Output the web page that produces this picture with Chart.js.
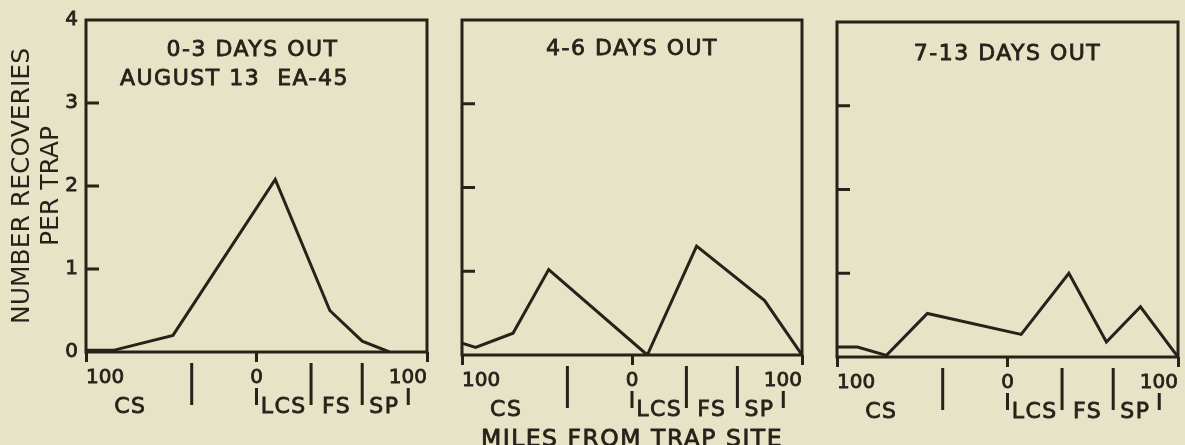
<!DOCTYPE html>
<html>
<head>
<meta charset="utf-8">
<script src="https://cdn.jsdelivr.net/npm/chart.js@4.4.1/dist/chart.umd.min.js"></script>
<style>
  html, body { margin: 0; padding: 0; background: #e7e3c7; }
  #wrap { position: relative; width: 1185px; height: 445px; overflow: hidden; }
  canvas { position: absolute; left: 0; top: 0; }
</style>
</head>
<body>
<div id="wrap">
  <canvas id="p1" width="1185" height="445"></canvas>
  <canvas id="p2" width="1185" height="445"></canvas>
  <canvas id="p3" width="1185" height="445"></canvas>
</div>
<script>
// miles from trap site (negative = CS side) and recoveries per trap, one pair per panel
const miles1 = [-100, -84, -49, 11, 43, 62, 78];
const recov1 = [0.02, 0.02, 0.2, 2.08, 0.5, 0.13, 0];
const miles2 = [-100, -92, -70, -49, 9, 38, 78, 100];
const recov2 = [0.14, 0.09, 0.26, 1.02, 0, 1.3, 0.65, 0];
const miles3 = [-100, -88, -71, -47, 8, 36, 58, 78, 100];
const recov3 = [0.12, 0.12, 0.02, 0.52, 0.27, 1.0, 0.18, 0.6, 0];

const yTicks = [0, 1, 2, 3, 4];
const xTicks = [-100, 0, 100];
// zone boundaries below the axis, and where the zone names sit (miles)
const zoneMarks = [-38, 0, 32, 62, 89];
const zoneMarkLong = [true, false, true, true, false];
const zoneNames = ['CS', 'LCS', 'FS', 'SP'];
const zoneAt = [-74, 16, 47, 75];

const ink = '#26221a';
Chart.defaults.font.family = '"DejaVu Sans", sans-serif';
Chart.defaults.color = ink;

// frame, inward ticks, zone marks and texts inside the panel
const deco = {
  id: 'deco',
  afterDatasetsDraw(chart, args, o) {
    const {ctx, chartArea: a, scales: {x, y}} = chart;
    ctx.save();
    ctx.strokeStyle = ink;
    ctx.lineWidth = 3;
    ctx.strokeRect(a.left, a.top, a.right - a.left, a.bottom - a.top);
    ctx.beginPath();
    yTicks.slice(1, -1).forEach(v => {
      const py = y.getPixelForValue(v);
      ctx.moveTo(a.left, py);
      ctx.lineTo(a.left + 13, py);
    });
    zoneMarks.forEach((v, i) => {
      const px = x.getPixelForValue(v);
      ctx.moveTo(px, a.bottom + (zoneMarkLong[i] ? 11 : 36));
      ctx.lineTo(px, a.bottom + 53);
    });
    ctx.stroke();

    ctx.fillStyle = ink;
    ctx.lineWidth = 0.8;
    ctx.letterSpacing = '1.5px';
    ctx.textAlign = 'center';
    ctx.textBaseline = 'alphabetic';
    const txt = (s, px, py) => { ctx.fillText(s, px, py); ctx.strokeText(s, px, py); };
    ctx.font = '22px "DejaVu Sans"';
    zoneNames.forEach((n, i) => txt(n, x.getPixelForValue(zoneAt[i]), a.bottom + 61));
    const mid = (a.left + a.right) / 2;
    o.lines.forEach(l => {
      ctx.font = (l.size || 22) + 'px "DejaVu Sans"';
      txt(l.text, mid + (l.dx || 0), (l.below ? a.bottom : a.top) + l.dy);
    });
    ctx.restore();
  }
};

function panel(id, miles, recov, area, lines, showY) {
  const yW = showY ? area.left - 8 : 0;
  new Chart(document.getElementById(id), {
    type: 'line',
    data: {
      datasets: [{
        data: miles.map((m, i) => ({x: m, y: recov[i]})),
        borderColor: ink,
        borderWidth: 3,
        pointRadius: 0,
        tension: 0,
        fill: false
      }]
    },
    options: {
      responsive: false,
      animation: false,
      events: [],
      layout: { padding: { left: area.left - yW, top: area.top, right: 1185 - area.right, bottom: 0 } },
      plugins: { legend: { display: false }, tooltip: { enabled: false }, deco: { lines: lines } },
      scales: {
        x: {
          type: 'linear',
          min: -100,
          max: 100,
          afterBuildTicks: s => { s.ticks = xTicks.map(v => ({value: v})); },
          afterFit: s => { s.height = 445 - area.bottom; },
          ticks: {
            callback: v => String(Math.abs(v)),
            align: 'inner',
            maxRotation: 0,
            autoSkip: false,
            padding: 4,
            font: { size: 20 },
            textStrokeColor: ink,
            textStrokeWidth: 0.8
          },
          grid: { drawOnChartArea: false, drawTicks: true, tickLength: 10, lineWidth: 3, color: ink },
          border: { display: false }
        },
        y: {
          display: showY,
          min: 0,
          max: 4,
          afterBuildTicks: s => { s.ticks = yTicks.map(v => ({value: v})); },
          afterFit: s => { s.width = yW; },
          ticks: { padding: 8, font: { size: 20 }, textStrokeColor: ink, textStrokeWidth: 0.8 },
          grid: { display: false, drawTicks: false },
          border: { display: false },
          title: {
            display: true,
            text: ['NUMBER RECOVERIES', 'PER TRAP'],
            font: { size: 25, lineHeight: 1.15 },
            padding: 0
          }
        }
      }
    },
    plugins: [deco]
  });
}

panel('p1', miles1, recov1, {left: 86, top: 18, right: 427, bottom: 352}, [
  {text: '0-3 DAYS OUT', dx: -4, dy: 36},
  {text: 'AUGUST 13  EA-45', dx: -22, dy: 65}
], true);
panel('p2', miles2, recov2, {left: 462, top: 20, right: 802, bottom: 355}, [
  {text: '4-6 DAYS OUT', dy: 35},
  {text: 'MILES FROM TRAP SITE', dy: 91, below: true, size: 23.5}
], false);
panel('p3', miles3, recov3, {left: 837, top: 22, right: 1178, bottom: 357}, [
  {text: '7-13 DAYS OUT', dy: 38}
], false);
</script>
</body>
</html>
